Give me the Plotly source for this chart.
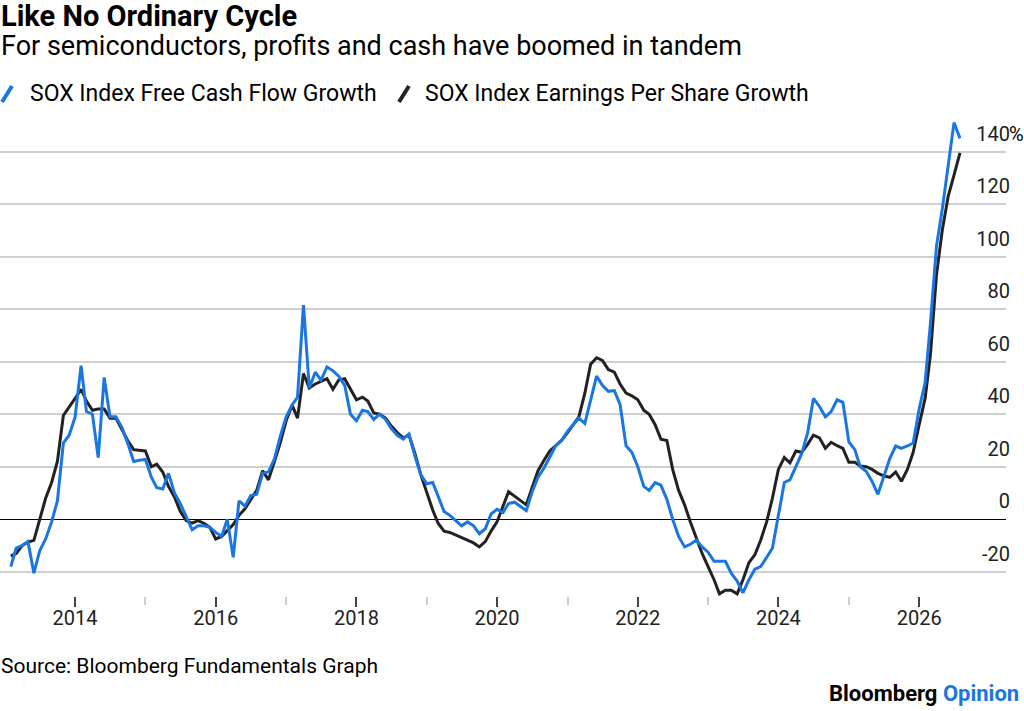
"""SOX index: free cash flow growth vs earnings per share growth."""

import pandas as pd
import plotly.graph_objects as go

# monthly observations, Feb 2013 onwards
months = pd.date_range("2013-02-01", periods=163, freq="MS")

fcf_growth = [
    -18, -11, -10, -8.5, -20.5, -12, -7.5, -1, 7, 29, 32, 39,
    58.5, 41, 40, 23.5, 54, 39, 39, 35, 29, 22, 22.5, 22.8,
    16, 12, 11.5, 17.5, 10, 6, 1, -4, -2.5, -2.5, -3, -5,
    -6.5, 0, -14.5, 7, 5, 9, 9.5, 17.5, 18, 23, 31.5, 39,
    43.5, 46.5, 81.5, 50, 56, 53, 58, 56.5, 54.5, 51, 40, 37.5,
    41.5, 41, 38, 40, 38, 34.5, 32, 30.5, 32.5, 24, 17, 13.5,
    14, 8.5, 3, 1.5, -0.5, -2.5, -1, -2.5, -5.5, -3.6, 2, 3.8,
    2.6, 6, 6.5, 5, 3.3, 10.4, 16, 19.5, 24, 28, 30, 33.5,
    36.2, 38.5, 36.5, 45, 54.5, 51, 48.7, 49, 43.7, 28, 25.5, 20,
    12.5, 11, 14, 13, 7.6, 0, -6.5, -10.5, -9.5, -8, -10.5, -12.5,
    -16, -16, -16, -20.5, -23.5, -28, -23, -19, -18, -14.5, -11, 1.5,
    14, 15, 20, 25, 33, 46, 43, 39, 41, 45.5, 44.5, 29.5,
    26.5, 20, 18.3, 14.5, 9.5, 16.5, 23, 27.9, 27, 27.9, 29, 42,
    52, 75, 104, 118, 134, 151, 145,
]

eps_growth = [
    -14, -13, -10, -8.7, -8, 0, 8, 14, 22, 39.5, 42.5, 46,
    49.5, 45, 41.5, 42, 42, 38.5, 38.5, 34, 30, 26.5, 26.3, 26,
    20, 21, 18, 12.5, 8.5, 3, -0.5, -1.5, -0.5, -1.5, -3, -7.5,
    -6.5, -4.5, -2, 1.5, 4, 7.5, 11, 18.5, 15, 22, 29, 37.5,
    43.5, 38.5, 55.5, 50, 51.5, 52.5, 53.5, 49.5, 53, 53.5, 49.5, 45.5,
    46.5, 45, 40.5, 40, 38.5, 35.5, 33, 31, 32, 25, 17, 10,
    3.5, -1.5, -4.5, -5, -6, -7, -8.2, -9, -10.5, -8.5, -4.5, -1,
    5, 10.5, 8.8, 7, 5.5, 12, 18.5, 22.5, 26, 28, 30, 33,
    36, 39, 48, 59, 61.5, 60.5, 57, 56, 51.5, 48, 47, 45.5,
    41.5, 40, 36, 30.5, 30, 19, 11, 5.5, -1, -7, -13, -18,
    -23, -28.4, -27, -27, -28.4, -23, -16.5, -13.5, -8, -1, 8, 19,
    23.5, 21.5, 26, 25.5, 28.5, 32, 31, 27, 29.3, 28, 27, 21.7,
    21.7, 20.3, 20, 19, 17.5, 16.5, 16, 18, 14.5, 19, 25.5, 36,
    46, 63, 93, 110, 123, 131, 139.5,
]

y_ticks = [-20, 0, 20, 40, 60, 80, 100, 120, 140]
y_tick_text = ["-20", "0", "20", "40", "60", "80", "100", "120", "140"]
major_years = [2014, 2016, 2018, 2020, 2022, 2024, 2026]
minor_years = [2015, 2017, 2019, 2021, 2023, 2025]

BLUE = "#1a76e3"
INK = "#222222"
FONT = "Roboto"

# plot area in page pixels
LEFT, RIGHT, TOP, BOTTOM = 0, 1006, 110, 596


def px_x(x):
    return (x - LEFT) / (RIGHT - LEFT)


def px_y(y):
    return (BOTTOM - y) / (BOTTOM - TOP)


fig = go.Figure()
fig.add_trace(
    go.Scatter(
        x=months, y=eps_growth, mode="lines", name="SOX Index Earnings Per Share Growth",
        line=dict(color=INK, width=3),
    )
)
fig.add_trace(
    go.Scatter(
        x=months, y=fcf_growth, mode="lines", name="SOX Index Free Cash Flow Growth",
        line=dict(color=BLUE, width=3),
    )
)

fig.update_xaxes(
    type="date",
    range=["2012-12-07", "2027-03-28"],
    tickvals=[f"{y}-01-01" for y in major_years],
    ticktext=[str(y) for y in major_years],
    ticks="outside", ticklen=10, tickwidth=1.5, tickcolor="#444444",
    ticklabelstandoff=-6,
    minor=dict(
        tickvals=[f"{y}-01-01" for y in minor_years],
        ticks="outside", ticklen=8, tickwidth=1.5, tickcolor="#cccccc", showgrid=False,
    ),
    showgrid=False, showline=False, zeroline=False,
    tickfont=dict(family=FONT, size=20, color=INK),
)
fig.update_yaxes(
    side="right",
    range=[-29.2, 155.8],
    tickvals=y_ticks, ticktext=y_tick_text,
    ticklabelposition="inside top",
    ticklabelstandoff=-7, ticklabelshift=-4,
    showgrid=True, gridcolor="#cfcfcf", gridwidth=1.5,
    zeroline=True, zerolinecolor="#000000", zerolinewidth=1.2,
    showline=False, ticks="",
    tickfont=dict(family=FONT, size=20, color=INK),
)

annotations = [
    dict(text="<b>Like No Ordinary Cycle</b>", x=px_x(0), y=px_y(16), size=29),
    dict(text="For semiconductors, profits and cash have boomed in tandem", x=px_x(0), y=px_y(46), size=27),
    dict(text="SOX Index Free Cash Flow Growth", x=px_x(29), y=px_y(94), size=23),
    dict(text="SOX Index Earnings Per Share Growth", x=px_x(424), y=px_y(94), size=23),
    dict(text="Source: Bloomberg Fundamentals Graph", x=px_x(0), y=px_y(666), size=21),
    dict(text="%", x=px_x(1008), y=px_y(134), size=20),
]
for a in annotations:
    fig.add_annotation(
        text=a["text"], x=a["x"], y=a["y"], xref="paper", yref="paper",
        xanchor="left", yanchor="middle", showarrow=False, borderpad=0,
        font=dict(family=FONT, size=a["size"], color="#000000"),
    )
fig.add_annotation(
    text=f"<b>Bloomberg <span style='color:{BLUE}'>Opinion</span></b>",
    x=px_x(1021), y=px_y(693), xref="paper", yref="paper",
    xanchor="right", yanchor="middle", showarrow=False,
    font=dict(family=FONT, size=22, color="#000000"),
)

# legend swatches: short slanted strokes
for x0, colour in [(2, BLUE), (399, INK)]:
    fig.add_shape(
        type="line", xref="paper", yref="paper",
        x0=px_x(x0), y0=px_y(102), x1=px_x(x0 + 10), y1=px_y(86),
        line=dict(color=colour, width=4),
    )

fig.update_layout(
    width=1024, height=711,
    margin=dict(l=LEFT, r=1024 - RIGHT, t=TOP, b=711 - BOTTOM),
    paper_bgcolor="white", plot_bgcolor="white",
    showlegend=False,
    font=dict(family=FONT),
)

fig.write_html(
    "out.html",
    config={"displayModeBar": False},
    post_script="document.body.style.margin='0';",
)
